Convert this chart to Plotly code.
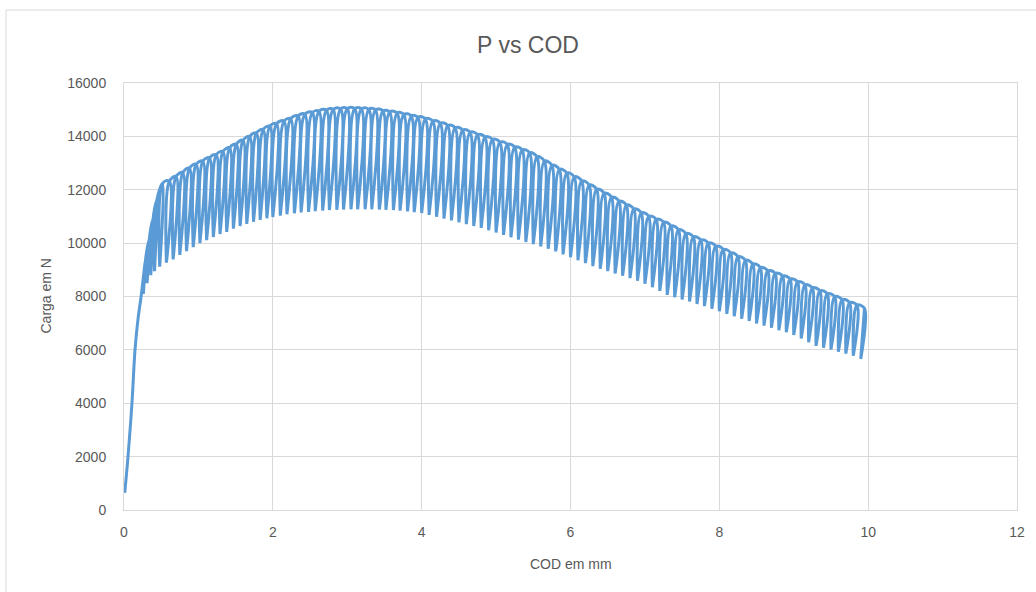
import plotly.graph_objects as go

# ---- data ----
# initial monotonic loading branch
init_cod = [0.01, 0.054, 0.107, 0.148, 0.19, 0.23]
init_load = [640, 2000, 4000, 6000, 7200, 8000]

# each unloading/reloading cycle: top of the unloading line and its valley
top_cod = [0.29, 0.34, 0.39, 0.44,
           0.52, 0.61, 0.70, 0.79, 0.88, 0.97, 1.06, 1.15, 1.24, 1.33, 1.42, 1.51, 1.60, 1.69, 1.78, 1.87, 1.96,
           2.05, 2.15, 2.24, 2.34, 2.43, 2.53, 2.62, 2.72, 2.81, 2.91, 3.00, 3.10, 3.19, 3.29, 3.38, 3.48, 3.57,
           3.67, 3.76, 3.86, 3.95,
           4.05, 4.15, 4.25, 4.35, 4.45, 4.55, 4.65, 4.75, 4.85, 4.95, 5.05, 5.15, 5.25, 5.35, 5.45, 5.55, 5.65,
           5.75, 5.85, 5.95, 6.05, 6.15, 6.25, 6.35, 6.45, 6.55, 6.65, 6.75, 6.85, 6.95, 7.05, 7.15, 7.25, 7.35,
           7.45, 7.55, 7.65, 7.75, 7.85, 7.95, 8.05, 8.15, 8.25, 8.35, 8.45, 8.55, 8.65, 8.75, 8.85, 8.95, 9.05,
           9.15, 9.25, 9.35, 9.45, 9.55, 9.65, 9.75, 9.85, 9.95]
top_load = [9400, 10150, 10900, 11600,
            12250, 12330, 12500, 12640, 12810, 12950, 13070, 13190, 13310, 13430, 13570, 13700, 13850, 13990,
            14120, 14250, 14380,
            14470, 14570, 14660, 14760, 14830, 14890, 14940, 14980, 15010, 15030, 15040, 15040, 15030, 15010,
            14990, 14950, 14910, 14870, 14820, 14760, 14710,
            14650, 14570, 14490, 14400, 14320, 14230, 14150, 14060, 13970, 13880, 13780, 13690, 13590, 13490,
            13380, 13230, 13070, 12910, 12760, 12620, 12480, 12330, 12170, 12020, 11870, 11720, 11570, 11420,
            11280, 11130, 11000, 10890, 10780, 10640, 10500, 10350, 10230, 10110, 10000, 9880, 9760, 9630,
            9490, 9350, 9210, 9080, 8960, 8860, 8760, 8650, 8550, 8430, 8320, 8210, 8100, 7990, 7880, 7770,
            7670, 7560]
bot_cod = [0.26, 0.31, 0.36, 0.41,
           0.48, 0.57, 0.66, 0.75, 0.84, 0.93, 1.02, 1.11, 1.20, 1.29, 1.38, 1.47, 1.56, 1.65, 1.74, 1.83, 1.92,
           2.00, 2.10, 2.19, 2.29, 2.38, 2.48, 2.57, 2.67, 2.76, 2.86, 2.95, 3.05, 3.14, 3.24, 3.33, 3.43, 3.52,
           3.62, 3.71, 3.81, 3.90,
           4.00, 4.10, 4.20, 4.30, 4.40, 4.50, 4.60, 4.70, 4.80, 4.90, 5.00, 5.10, 5.20, 5.30, 5.40, 5.50, 5.60,
           5.70, 5.80, 5.90, 6.00, 6.10, 6.20, 6.30, 6.40, 6.50, 6.60, 6.70, 6.80, 6.90, 7.00, 7.10, 7.20, 7.30,
           7.40, 7.50, 7.60, 7.70, 7.80, 7.90, 8.00, 8.10, 8.20, 8.30, 8.40, 8.50, 8.60, 8.70, 8.80, 8.90, 9.00,
           9.10, 9.20, 9.30, 9.40, 9.50, 9.60, 9.70, 9.80, 9.90]
bot_load = [8100, 8500, 8800, 8950,
            9120, 9270, 9390, 9560, 9700, 9850, 10000, 10110, 10230, 10340, 10420, 10540, 10640, 10720, 10800,
            10870, 10930,
            10980, 11030, 11080, 11120, 11150, 11170, 11200, 11220, 11240, 11250, 11260, 11270, 11270, 11270,
            11270, 11260, 11250, 11240, 11220, 11190, 11160,
            11130, 11060, 10990, 10920, 10850, 10780, 10710, 10640, 10570, 10480, 10400, 10310, 10220, 10130,
            10040, 9960, 9880, 9790, 9690, 9580, 9470, 9360, 9250, 9140, 9040, 8950, 8860, 8780, 8690, 8590,
            8480, 8350, 8210, 8060, 7970, 7890, 7810, 7720, 7640, 7540, 7450, 7350, 7260, 7170, 7080, 6990,
            6910, 6830, 6740, 6660, 6560, 6430, 6290, 6150, 6080, 6010, 5930, 5860, 5780, 5660]

x_ticks = [0, 2, 4, 6, 8, 10, 12]
y_ticks = [0, 2000, 4000, 6000, 8000, 10000, 12000, 14000, 16000]

# ---- build the path: loading branch, then unload/reload for every cycle ----
xs = list(init_cod)
ys = list(init_load)
for tx, ty, bx, by in zip(top_cod, top_load, bot_cod, bot_load):
    xs += [tx, bx, tx]
    ys += [ty, by, ty]

FONT = "Liberation Sans, Arial, sans-serif"
GREY = "#595959"
GRID = "#D9D9D9"

fig = go.Figure()
fig.add_trace(go.Scatter(
    x=xs, y=ys, mode="lines",
    line=dict(color="#5B9BD5", width=3, shape="spline", smoothing=1.0, simplify=False),
    showlegend=False, hoverinfo="skip",
))

W, H = 1036, 592
L, R, T, B = 124, 1017, 83, 510

def px_x(p):
    return (p - L) / (R - L)

def px_y(p):
    return (B - p) / (B - T)

fig.update_layout(
    width=W, height=H,
    margin=dict(l=L, r=W - R, t=T, b=H - B),
    paper_bgcolor="white", plot_bgcolor="white",
    font=dict(family=FONT, color=GREY),
    title=dict(text="P vs COD", x=528 / W, xref="container", xanchor="center",
               y=1 - 45 / H, yref="container", yanchor="middle",
               font=dict(family=FONT, size=23, color=GREY)),
    xaxis=dict(range=[0, 12], tickvals=x_ticks, ticktext=[str(v) for v in x_ticks],
               showgrid=True, gridcolor=GRID, gridwidth=1, zeroline=False,
               showline=True, linecolor=GRID, linewidth=1, mirror=True,
               ticks="", tickfont=dict(family=FONT, size=14, color=GREY),
               ticklabelstandoff=9),
    yaxis=dict(range=[0, 16000], tickvals=y_ticks, ticktext=[str(v) for v in y_ticks],
               showgrid=True, gridcolor=GRID, gridwidth=1, zeroline=False,
               showline=True, linecolor=GRID, linewidth=1, mirror=True,
               ticks="", tickfont=dict(family=FONT, size=14, color=GREY),
               ticklabelstandoff=14),
    annotations=[
        dict(text="COD em mm", xref="paper", yref="paper", x=0.5, y=px_y(564),
             xanchor="center", yanchor="middle", showarrow=False,
             font=dict(family=FONT, size=14, color=GREY)),
        dict(text="Carga em N", xref="paper", yref="paper", x=px_x(45), y=0.5,
             xanchor="center", yanchor="middle", showarrow=False, textangle=-90,
             font=dict(family=FONT, size=14, color=GREY)),
    ],
    shapes=[
        dict(type="rect", xref="paper", yref="paper",
             x0=px_x(6), x1=px_x(1045), y0=px_y(600), y1=px_y(10),
             line=dict(color=GRID, width=1), fillcolor="rgba(0,0,0,0)", layer="below"),
    ],
)

fig.write_html("out.html", config={"displayModeBar": False},
               post_script="document.body.style.margin='0';")
